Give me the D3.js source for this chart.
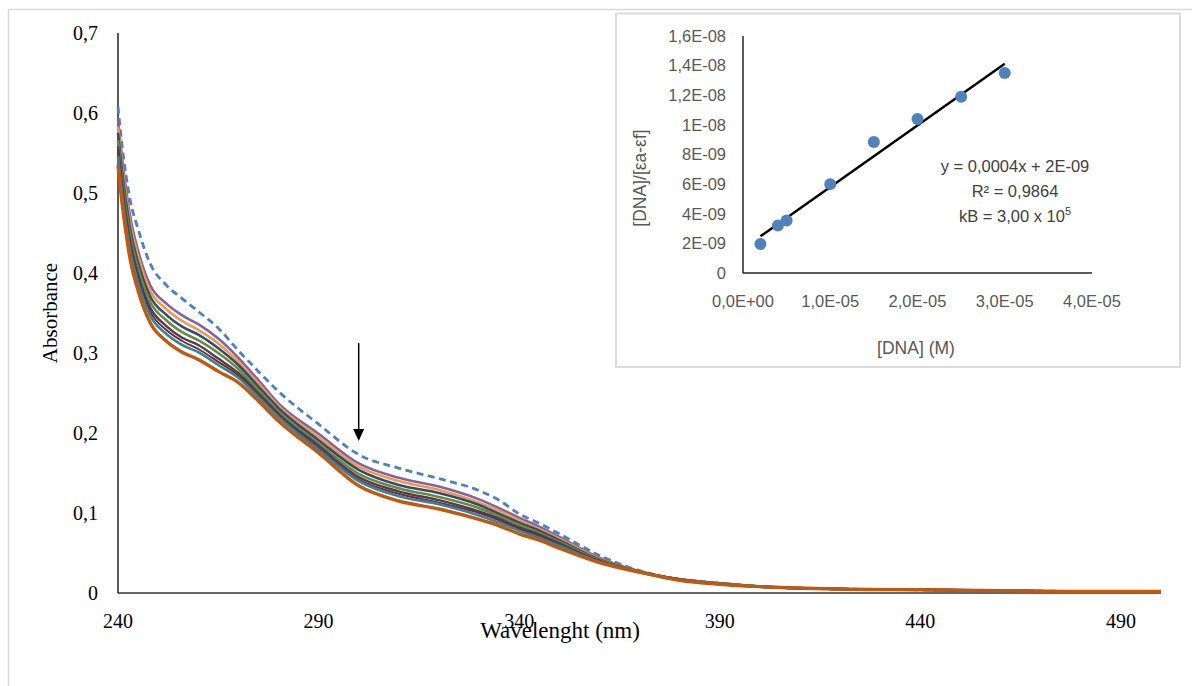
<!DOCTYPE html>
<html>
<head>
<meta charset="utf-8">
<script src="https://cdn.jsdelivr.net/npm/d3@7"></script>
<style>
  body { margin: 0; background: #fff; }
  svg { display: block; }
</style>
</head>
<body>
<div id="chart"></div>
<script>
// UV-vis titration spectra
var wavelengths = [240,241,242,243,245,248,252,256,260,265,270,275,280,290,300,310,320,330,335,340,345,350,360,370,380,390,400,420,440,460,480,500];

var absFree  = [0.608,0.560,0.522,0.492,0.455,0.412,0.385,0.368,0.352,0.331,0.303,0.277,0.252,0.211,0.173,0.156,0.143,0.128,0.116,0.099,0.087,0.074,0.047,0.028,0.017,0.012,0.008,0.005,0.004,0.003,0.002,0.002];
var absDna2  = [0.592,0.545,0.505,0.472,0.428,0.385,0.362,0.347,0.336,0.318,0.294,0.266,0.237,0.199,0.162,0.144,0.133,0.117,0.106,0.094,0.083,0.070,0.044,0.027,0.017,0.012,0.008,0.005,0.004,0.003,0.002,0.002];
var absDna4  = [0.583,0.536,0.497,0.464,0.421,0.378,0.355,0.340,0.329,0.312,0.289,0.262,0.234,0.195,0.158,0.140,0.129,0.113,0.103,0.091,0.080,0.068,0.043,0.027,0.017,0.012,0.008,0.005,0.004,0.003,0.002,0.002];
var absDna5  = [0.575,0.528,0.489,0.456,0.413,0.371,0.348,0.333,0.323,0.306,0.285,0.258,0.231,0.191,0.154,0.135,0.125,0.110,0.099,0.088,0.078,0.066,0.042,0.027,0.017,0.012,0.008,0.005,0.004,0.003,0.002,0.002];
var absDna10 = [0.566,0.519,0.480,0.448,0.406,0.364,0.341,0.326,0.316,0.300,0.280,0.254,0.227,0.187,0.149,0.131,0.120,0.106,0.096,0.085,0.075,0.064,0.041,0.027,0.017,0.012,0.008,0.005,0.004,0.003,0.002,0.002];
var absDna15 = [0.558,0.511,0.472,0.440,0.398,0.357,0.334,0.319,0.310,0.293,0.275,0.250,0.224,0.184,0.145,0.127,0.116,0.102,0.093,0.082,0.073,0.062,0.040,0.026,0.017,0.011,0.008,0.005,0.004,0.003,0.002,0.002];
var absDna20 = [0.552,0.505,0.467,0.434,0.393,0.352,0.329,0.315,0.305,0.289,0.272,0.248,0.222,0.181,0.142,0.124,0.113,0.100,0.091,0.080,0.071,0.060,0.040,0.026,0.017,0.011,0.008,0.005,0.004,0.003,0.002,0.002];
var absDna25 = [0.546,0.499,0.461,0.429,0.388,0.347,0.324,0.310,0.301,0.285,0.269,0.245,0.220,0.179,0.140,0.121,0.111,0.097,0.088,0.078,0.069,0.059,0.039,0.026,0.016,0.011,0.008,0.005,0.004,0.003,0.002,0.002];
var absDna30 = [0.535,0.488,0.450,0.418,0.378,0.338,0.315,0.301,0.292,0.277,0.263,0.240,0.215,0.175,0.134,0.115,0.105,0.092,0.084,0.074,0.066,0.056,0.038,0.026,0.016,0.011,0.008,0.005,0.004,0.003,0.002,0.002];

var xTicks = [240, 290, 340, 390, 440, 490];
var yTicks = [0, 0.1, 0.2, 0.3, 0.4, 0.5, 0.6, 0.7];

// inset: [DNA]/(ea-ef) vs [DNA]
var dnaConc = [2e-6, 4e-6, 5e-6, 1e-5, 1.5e-5, 2e-5, 2.5e-5, 3e-5];
var dnaRatio = [1.95e-9, 3.2e-9, 3.55e-9, 6.0e-9, 8.85e-9, 10.4e-9, 11.9e-9, 13.5e-9];
var insetXTicks = [0, 1e-5, 2e-5, 3e-5, 4e-5];
var insetXLabels = ['0,0E+00', '1,0E-05', '2,0E-05', '3,0E-05', '4,0E-05'];
var insetYTicks = [0, 2e-9, 4e-9, 6e-9, 8e-9, 1e-8, 1.2e-8, 1.4e-8, 1.6e-8];
var insetYLabels = ['0', '2E-09', '4E-09', '6E-09', '8E-09', '1E-08', '1,2E-08', '1,4E-08', '1,6E-08'];

var series = [
  {values: absFree,  color: '#4f81bd', width: 2.8, dash: '7,4.5'},
  {values: absDna2,  color: '#8064a2', width: 2.6},
  {values: absDna4,  color: '#f79646', width: 2.6},
  {values: absDna5,  color: '#2c4d75', width: 2.6},
  {values: absDna10, color: '#6b8a34', width: 2.6},
  {values: absDna15, color: '#4d3b62', width: 2.4},
  {values: absDna20, color: '#772c2a', width: 2},
  {values: absDna25, color: '#31859c', width: 2.6},
  {values: absDna30, color: '#c0580f', width: 3.4}
];

var W = 1192, H = 686;
var svg = d3.select('#chart').append('svg')
  .attr('width', W)
  .attr('height', H);

// chart area frame (only left/top edges are inside the picture)
svg.append('rect')
  .attr('x', 8.5).attr('y', 9.5)
  .attr('width', 1300).attr('height', 800)
  .attr('fill', '#fff')
  .attr('stroke', '#d9d9d9')
  .attr('stroke-width', 1.5);

var x = d3.scaleLinear().domain([240, 500]).range([118, 1161]);
var y = d3.scaleLinear().domain([0, 0.7]).range([593, 33]);

var serif = '"Liberation Serif", "Times New Roman", serif';

// axes lines
svg.append('line')
  .attr('x1', x(240)).attr('x2', x(240))
  .attr('y1', y(0.7)).attr('y2', y(0))
  .attr('stroke', '#000').attr('stroke-width', 1.3);
svg.append('line')
  .attr('x1', x(240)).attr('x2', x(500))
  .attr('y1', y(0)).attr('y2', y(0))
  .attr('stroke', '#333').attr('stroke-width', 1.3);

svg.selectAll('.ytick')
  .data(yTicks)
  .enter().append('text')
  .attr('class', 'ytick')
  .attr('x', 98)
  .attr('y', function(d) { return y(d); })
  .attr('dy', '0.35em')
  .attr('text-anchor', 'end')
  .attr('font-family', serif)
  .attr('font-size', 20)
  .attr('fill', '#000')
  .text(function(d) { return d === 0 ? '0' : d3.format('.1f')(d).replace('.', ','); });

svg.selectAll('.xtick')
  .data(xTicks)
  .enter().append('text')
  .attr('class', 'xtick')
  .attr('x', function(d) { return x(d); })
  .attr('y', 628)
  .attr('text-anchor', 'middle')
  .attr('font-family', serif)
  .attr('font-size', 20)
  .attr('fill', '#000')
  .text(function(d) { return d; });

svg.append('text')
  .attr('transform', 'translate(57,313) rotate(-90)')
  .attr('text-anchor', 'middle')
  .attr('font-family', serif)
  .attr('font-size', 21)
  .text('Absorbance');

svg.append('text')
  .attr('x', 560)
  .attr('y', 638)
  .attr('text-anchor', 'middle')
  .attr('font-family', serif)
  .attr('font-size', 23)
  .text('Wavelenght (nm)');

// spectra
var line = d3.line()
  .x(function(d, i) { return x(wavelengths[i]); })
  .y(function(d) { return y(d); })
  .curve(d3.curveMonotoneX);

svg.append('g').selectAll('path')
  .data(series)
  .enter().append('path')
  .attr('d', function(s) { return line(s.values); })
  .attr('fill', 'none')
  .attr('stroke', function(s) { return s.color; })
  .attr('stroke-width', function(s) { return s.width; })
  .attr('stroke-dasharray', function(s) { return s.dash || null; })
  .attr('stroke-linejoin', 'round');

// arrow showing decrease
var ax = x(300);
svg.append('line')
  .attr('x1', ax).attr('x2', ax)
  .attr('y1', y(0.3125)).attr('y2', y(0.205))
  .attr('stroke', '#000').attr('stroke-width', 1.5);
svg.append('path')
  .attr('d', 'M' + (ax - 5.5) + ',' + y(0.205) + 'L' + (ax + 5.5) + ',' + y(0.205) + 'L' + ax + ',' + y(0.19) + 'Z')
  .attr('fill', '#000');

// ---------- inset ----------
var sans = '"Liberation Sans", Arial, sans-serif';

svg.append('rect')
  .attr('x', 616).attr('y', 13.5)
  .attr('width', 564).attr('height', 353.5)
  .attr('fill', '#fff')
  .attr('stroke', '#d9d9d9')
  .attr('stroke-width', 1.8);

var ix = d3.scaleLinear().domain([0, 4e-5]).range([743, 1092]);
var iy = d3.scaleLinear().domain([0, 1.6e-8]).range([273, 36]);

svg.append('line')
  .attr('x1', ix(0)).attr('x2', ix(0))
  .attr('y1', iy(1.6e-8)).attr('y2', iy(0))
  .attr('stroke', '#262626').attr('stroke-width', 1.5);
svg.append('line')
  .attr('x1', ix(0)).attr('x2', ix(4e-5))
  .attr('y1', iy(0)).attr('y2', iy(0))
  .attr('stroke', '#262626').attr('stroke-width', 1.5);

svg.selectAll('.iytick')
  .data(insetYTicks)
  .enter().append('text')
  .attr('class', 'iytick')
  .attr('x', 726)
  .attr('y', function(d) { return iy(d); })
  .attr('dy', '0.35em')
  .attr('text-anchor', 'end')
  .attr('font-family', sans)
  .attr('font-size', 16.5)
  .attr('fill', '#595959')
  .text(function(d, i) { return insetYLabels[i]; });

svg.selectAll('.ixtick')
  .data(insetXTicks)
  .enter().append('text')
  .attr('class', 'ixtick')
  .attr('x', function(d) { return ix(d); })
  .attr('y', 301)
  .attr('dy', '0.35em')
  .attr('text-anchor', 'middle')
  .attr('font-family', sans)
  .attr('font-size', 16.5)
  .attr('fill', '#595959')
  .text(function(d, i) { return insetXLabels[i]; });

svg.append('text')
  .attr('transform', 'translate(640,178) rotate(-90)')
  .attr('dy', '0.35em')
  .attr('text-anchor', 'middle')
  .attr('font-family', sans)
  .attr('font-size', 17.5)
  .attr('fill', '#595959')
  .text('[DNA]/[εa-εf]');

svg.append('text')
  .attr('x', 916)
  .attr('y', 348)
  .attr('dy', '0.35em')
  .attr('text-anchor', 'middle')
  .attr('font-family', sans)
  .attr('font-size', 17.5)
  .attr('fill', '#595959')
  .text('[DNA] (M)');

// least squares trendline through the points
var mx = d3.mean(dnaConc), my = d3.mean(dnaRatio);
var sxy = d3.sum(dnaConc, function(v, i) { return (v - mx) * (dnaRatio[i] - my); });
var sxx = d3.sum(dnaConc, function(v) { return (v - mx) * (v - mx); });
var slope = sxy / sxx, icpt = my - slope * mx;
var xr = d3.extent(dnaConc);

svg.append('line')
  .attr('x1', ix(xr[0])).attr('y1', iy(icpt + slope * xr[0]))
  .attr('x2', ix(xr[1])).attr('y2', iy(icpt + slope * xr[1]))
  .attr('stroke', '#000')
  .attr('stroke-width', 2.5);

svg.selectAll('.pt')
  .data(dnaConc)
  .enter().append('circle')
  .attr('class', 'pt')
  .attr('cx', function(d) { return ix(d); })
  .attr('cy', function(d, i) { return iy(dnaRatio[i]); })
  .attr('r', 6)
  .attr('fill', '#4f81bd');

var eq = svg.append('text')
  .attr('text-anchor', 'middle')
  .attr('font-family', sans)
  .attr('font-size', 16.5)
  .attr('fill', '#404040');
eq.append('tspan').attr('x', 1015).attr('y', 172).text('y = 0,0004x + 2E-09');
eq.append('tspan').attr('x', 1015).attr('y', 197).text('R² = 0,9864');
eq.append('tspan').attr('x', 1015).attr('y', 222).text('kB = 3,00 x 10');
eq.append('tspan').attr('dy', -7).attr('font-size', 11).text('5');
</script>
</body>
</html>
